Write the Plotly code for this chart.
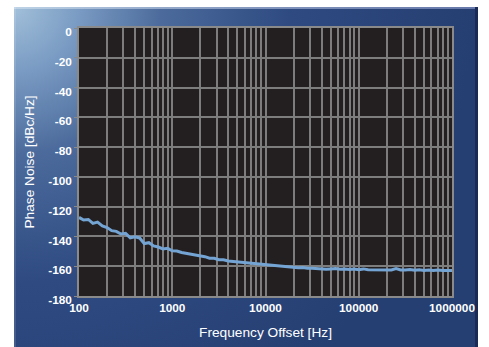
import base64
import plotly.graph_objects as go

# Offset frequency [Hz] and measured single-sideband phase noise [dBc/Hz]
freq_hz = [
    100, 112, 126, 141, 158, 178, 200, 224, 251, 282,
    316, 355, 398, 447, 501, 562, 631, 708, 794, 891,
    1000, 1122, 1259, 1413, 1585, 1778, 1995, 2239, 2512, 2818,
    3162, 3548, 3981, 4467, 5012, 5623, 6310, 7079, 7943, 8913,
    10000, 11220, 12589, 14125, 15849, 17783, 19953, 22387, 25119, 28184,
    31623, 35481, 39811, 44668, 50119, 56234, 63096, 70795, 79433, 89125,
    100000, 112202, 125893, 141254, 158489, 177828, 199526, 223872, 251189, 281838,
    316228, 354813, 398107, 446684, 501187, 562341, 630957, 707946, 794328, 891251,
    1000000,
]
phase_noise = [
    -127.2, -129.0, -128.6, -131.2, -130.4, -132.9, -134.0, -136.1, -136.6, -138.4,
    -137.9, -140.9, -140.3, -141.0, -144.8, -144.2, -146.4, -147.1, -148.4, -148.0,
    -149.6, -149.8, -150.8, -151.3, -152.0, -152.3, -153.2, -153.6, -154.6, -154.7,
    -155.6, -155.7, -156.5, -156.8, -157.3, -157.6, -158.0, -158.3, -158.6, -158.8,
    -158.9, -159.5, -159.6, -160.1, -160.1, -160.6, -160.6, -161.1, -160.9, -161.4,
    -161.3, -161.7, -161.6, -162.0, -161.8, -161.6, -162.1, -161.8, -162.2, -161.9,
    -162.3, -161.8, -162.4, -162.4, -162.1, -162.6, -162.2, -162.5, -161.6, -162.5,
    -162.6, -162.2, -162.7, -162.4, -162.8, -162.5, -162.8, -162.5, -162.9, -162.7,
    -162.8,
]

# Axis ticks: gridlines at every 1..9 multiple, labels only at decades
x_tick_vals = [m * 10 ** e for e in range(2, 6) for m in range(1, 10)] + [1000000]
x_tick_text = [str(v) if str(v).strip("0") == "1" else "" for v in x_tick_vals]
y_tick_vals = [0, -20, -40, -60, -80, -100, -120, -140, -160, -180]
y_tick_text = ["0", "-20", "-40", "-60", "-80", "-100", "-120", "-140", "-160", "-180"]

W, H = 489, 347
ML, MR, MT, MB = 79, 37, 28, 51
PW, PH = W - ML - MR, H - MT - MB


def px_x(px):
    return (px - ML) / PW


def px_y(py):
    return (H - MB - py) / PH


# Blue backdrop panel with a light glow in the upper-left corner
panel_w, panel_h = 464, 340
svg = f"""<svg xmlns='http://www.w3.org/2000/svg' width='{panel_w}' height='{panel_h}' viewBox='0 0 {panel_w} {panel_h}' preserveAspectRatio='none'>
<defs>
<radialGradient id='g' gradientUnits='userSpaceOnUse' cx='0' cy='0' r='460'>
<stop offset='0' stop-color='#a2c0da'/>
<stop offset='0.14' stop-color='#7a9bc3'/>
<stop offset='0.32' stop-color='#4c6b9c'/>
<stop offset='0.6' stop-color='#2e4a81'/>
<stop offset='1' stop-color='#263f72'/>
</radialGradient>
<linearGradient id='t' x1='0' y1='0' x2='1' y2='0'>
<stop offset='0' stop-color='#c9dbea'/>
<stop offset='1' stop-color='#8190c0'/>
</linearGradient>
</defs>
<rect x='0' y='0' width='{panel_w}' height='{panel_h}' fill='url(#g)'/>
<rect x='0' y='0' width='{panel_w}' height='2' fill='url(#t)' opacity='0.7'/>
<rect x='{panel_w - 3}' y='0' width='3' height='{panel_h}' fill='#1a2b55'/>
<rect x='0' y='0' width='2' height='{panel_h}' fill='#ffffff' opacity='0.12'/>
</svg>"""
svg_uri = "data:image/svg+xml;base64," + base64.b64encode(svg.encode()).decode()

fig = go.Figure()
fig.add_trace(
    go.Scatter(
        x=freq_hz,
        y=phase_noise,
        mode="lines",
        line=dict(color="#74a4d3", width=3),
        hoverinfo="skip",
    )
)

fig.add_layout_image(
    dict(
        source=svg_uri,
        xref="paper",
        yref="paper",
        x=px_x(14),
        y=px_y(7),
        sizex=px_x(14 + panel_w) - px_x(14),
        sizey=px_y(7) - px_y(7 + panel_h),
        sizing="stretch",
        xanchor="left",
        yanchor="top",
        layer="below",
    )
)
# Dark plotting area drawn over the panel, beneath gridlines
fig.add_shape(
    type="rect",
    xref="paper",
    yref="paper",
    x0=0,
    y0=0,
    x1=1,
    y1=1,
    fillcolor="#231f20",
    line=dict(width=0),
    layer="below",
)

tick_font = dict(family="Liberation Sans, Arial, sans-serif", size=11.8, color="white", weight="bold")
title_font = dict(family="Liberation Sans, Arial, sans-serif", size=13.7, color="white")

fig.update_layout(
    width=W,
    height=H,
    margin=dict(l=ML, r=MR, t=MT, b=MB, autoexpand=False),
    paper_bgcolor="white",
    plot_bgcolor="#231f20",
    showlegend=False,
    xaxis=dict(
        type="log",
        range=[2, 6],
        tickmode="array",
        tickvals=x_tick_vals,
        ticktext=x_tick_text,
        showgrid=True,
        gridcolor="#7d7d7d",
        gridwidth=1.5,
        showline=True,
        linecolor="#8a8a8a",
        linewidth=1.5,
        mirror=True,
        ticks="",
        tickfont=tick_font,
        title=dict(text="Frequency Offset [Hz]", font=title_font, standoff=13),
        zeroline=False,
        automargin=False,
    ),
    yaxis=dict(
        range=[-180, 0],
        tickmode="array",
        tickvals=y_tick_vals,
        ticktext=y_tick_text,
        showgrid=True,
        gridcolor="#7d7d7d",
        gridwidth=1.5,
        showline=True,
        linecolor="#8a8a8a",
        linewidth=1.5,
        mirror=True,
        ticks="outside",
        ticklen=3,
        tickcolor="#8a8a8a",
        tickfont=tick_font,
        ticklabelshift=4,
        title=dict(text="Phase Noise [dBc/Hz]", font=title_font, standoff=10),
        zeroline=False,
        automargin=False,
    ),
)

fig.write_html("out.html")
